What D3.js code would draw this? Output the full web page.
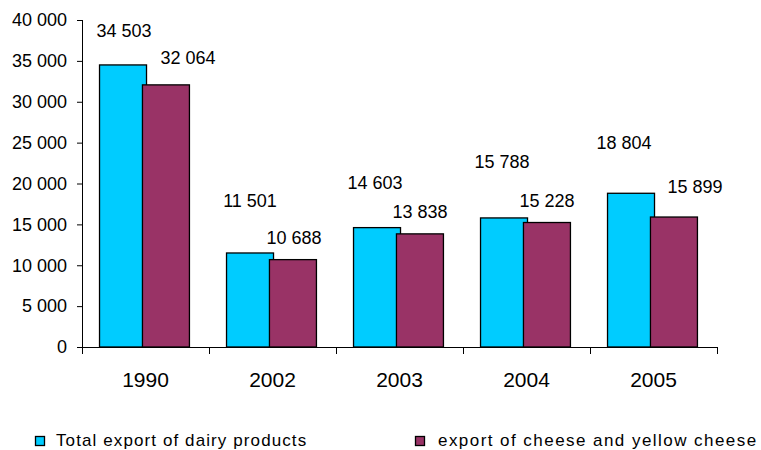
<!DOCTYPE html>
<html>
<head>
<meta charset="utf-8">
<script src="https://cdn.jsdelivr.net/npm/d3@7"></script>
<style>
  body { margin: 0; background: #fff; }
  svg { display: block; font-family: "Liberation Sans", Arial, sans-serif; }
</style>
</head>
<body>
<div id="chart"></div>
<script>
// data
let years = ["1990", "2002", "2003", "2004", "2005"];
let totalExport = [34503, 11501, 14603, 15788, 18804];
let cheeseExport = [32064, 10688, 13838, 15228, 15899];
let seriesNames = ["Total export of dairy products", "export of cheese and yellow cheese"];
let yTicks = [0, 5000, 10000, 15000, 20000, 25000, 30000, 35000, 40000];

// hand-placed label nudges (dx from bar centre, dy above bar top), as in the original
let labelNudge = [
    [[1, -28], [0, -46], [-2, -39], [-2, -50], [-7, -44]],
    [[22, -21], [1, -16], [0, -16], [0, -16], [21, -24]]
];

let margin = {top: 20, right: 44, bottom: 103, left: 82},
    width = 761 - margin.left - margin.right,
    height = 450 - margin.top - margin.bottom;

let colors = ["#00ccff", "#993366"];

let x = d3.scaleBand().domain(years).range([0, width]).padding(0);
let y = d3.scaleLinear().domain([0, 40000]).range([height, 0]);

let fmt = d3.formatLocale({decimal: ".", thousands: " ", grouping: [3], currency: ["", ""]}).format(",.0f");

let svg = d3.select("#chart")
    .append("svg")
    .attr("width", 761)
    .attr("height", 450);

svg.append("rect").attr("width", 761).attr("height", 450).attr("fill", "#fff");

let g = svg.append("g")
    .attr("transform", "translate(" + margin.left + "," + margin.top + ")");

// y axis
let yAxis = d3.axisLeft(y).tickValues(yTicks).tickSize(5).tickPadding(10).tickFormat(fmt);
let yg = g.append("g").attr("class", "y axis").call(yAxis);
yg.select(".domain").attr("d", "M0.5," + height + "V0");
yg.selectAll(".tick line").attr("stroke", "#000");
yg.selectAll(".tick text")
    .attr("fill", "#000")
    .style("font-size", "18px")
    .style("font-family", "Liberation Sans, Arial, sans-serif");

// bars: offsets within a band, as fractions of bandwidth
let bw = x.bandwidth();
let barW = bw * 0.37;
let barX = [bw * 0.138, bw * 0.476];
let barCenters = barX.map(o => o + barW / 2);

[totalExport, cheeseExport].forEach(function(values, s) {
    g.selectAll(".bar" + s)
        .data(values)
        .enter()
        .append("rect")
        .attr("class", "bar" + s)
        .attr("x", (d, i) => x(years[i]) + barX[s])
        .attr("y", d => y(d))
        .attr("width", barW)
        .attr("height", d => height - y(d))
        .attr("fill", colors[s])
        .attr("stroke", "#000")
        .attr("stroke-width", 1.3);
});

// value labels
[totalExport, cheeseExport].forEach(function(values, s) {
    g.selectAll(".label" + s)
        .data(values)
        .enter()
        .append("text")
        .attr("class", "label" + s)
        .attr("x", (d, i) => x(years[i]) + barCenters[s] + labelNudge[s][i][0])
        .attr("y", (d, i) => y(d) + labelNudge[s][i][1])
        .attr("text-anchor", "middle")
        .style("font-size", "18px")
        .attr("fill", "#000")
        .text(d => fmt(d));
});

// x axis
let xg = g.append("g").attr("class", "x axis").attr("transform", "translate(0," + height + ")");
xg.append("line")
    .attr("x1", 0).attr("x2", width)
    .attr("y1", 0.5).attr("y2", 0.5)
    .attr("stroke", "#000");
let edges = years.map(d => x(d)).concat([width]);
xg.selectAll(".edge")
    .data(edges)
    .enter()
    .append("line")
    .attr("class", "edge")
    .attr("x1", d => Math.round(d) + 0.5).attr("x2", d => Math.round(d) + 0.5)
    .attr("y1", 0).attr("y2", 7)
    .attr("stroke", "#000");
xg.selectAll(".year")
    .data(years)
    .enter()
    .append("text")
    .attr("class", "year")
    .attr("x", d => x(d) + bw / 2)
    .attr("y", 40)
    .attr("text-anchor", "middle")
    .style("font-size", "21px")
    .attr("fill", "#000")
    .text(d => d);

// legend
let legendX = [35, 415];
let legend = svg.selectAll(".legend")
    .data(seriesNames)
    .enter()
    .append("g")
    .attr("class", "legend")
    .attr("transform", (d, i) => "translate(" + legendX[i] + ",436)");
legend.append("rect")
    .attr("x", 0.5).attr("y", 0.5)
    .attr("width", 9).attr("height", 9)
    .attr("fill", (d, i) => colors[i])
    .attr("stroke", "#000")
    .attr("stroke-width", 1.3);
legend.append("text")
    .attr("x", (d, i) => i === 0 ? 21 : 23)
    .attr("y", 10)
    .style("font-size", "17px")
    .style("letter-spacing", (d, i) => i === 0 ? "1.1px" : "1.45px")
    .attr("fill", "#000")
    .text(d => d);
</script>
</body>
</html>
